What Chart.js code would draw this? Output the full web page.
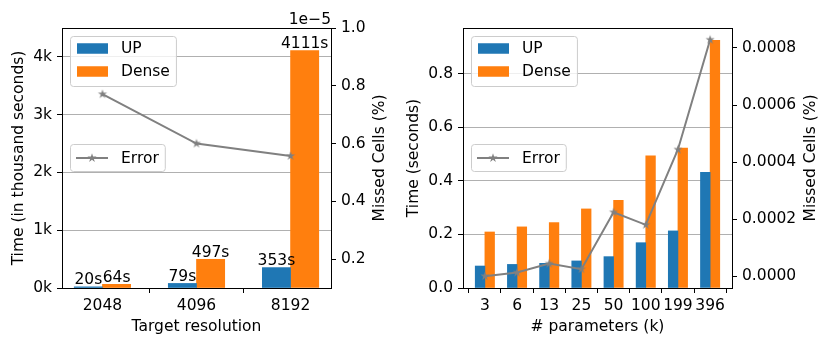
<!DOCTYPE html>
<html>
<head>
<meta charset="utf-8">
<script src="https://cdn.jsdelivr.net/npm/chart.js@4.4.0/dist/chart.umd.min.js"></script>
<style>
  html, body { margin: 0; padding: 0; background: #fff; }
  #wrap { position: relative; width: 830px; height: 347px; overflow: hidden; }
  canvas { position: absolute; top: 0; }
</style>
</head>
<body>
<div id="wrap">
  <canvas id="resChart" width="398" height="347" style="left:0"></canvas>
  <canvas id="paramChart" width="432" height="347" style="left:398px"></canvas>
</div>
<script>
// left panel: target resolution
var resolutions = ['2048', '4096', '8192'];
var resUpTime = [20, 79, 353];            // seconds
var resDenseTime = [64, 497, 4111];       // seconds
var resError = [0.771e-5, 0.600e-5, 0.557e-5];
var resTimeTicks = [0, 1000, 2000, 3000, 4000];
var resErrorTicks = [0.2e-5, 0.4e-5, 0.6e-5, 0.8e-5, 1.0e-5];

// right panel: number of parameters
var paramCounts = ['3', '6', '13', '25', '50', '100', '199', '396'];
var paramUpTime = [0.082, 0.088, 0.092, 0.101, 0.117, 0.169, 0.213, 0.432];
var paramDenseTime = [0.209, 0.228, 0.244, 0.295, 0.327, 0.493, 0.522, 0.924];
var paramError = [0.0, 0.0000126, 0.000044, 0.0000245, 0.000224, 0.00018, 0.000444, 0.000829];
var paramTimeTicks = [0, 0.2, 0.4, 0.6, 0.8];
var paramErrorTicks = [0, 0.0002, 0.0004, 0.0006, 0.0008];

var FONT_SIZE = 15.5;
Chart.defaults.font.family = 'DejaVu Sans';
Chart.defaults.font.size = FONT_SIZE;
Chart.defaults.color = '#000';

var BLUE = '#1f77b4', ORANGE = '#ff7f0e', GRAY = '#808080';

// filled 5 point star like matplotlib '*'
function makeStar(r, color) {
    var size = Math.ceil(r * 2) + 2;
    var c = document.createElement('canvas');
    c.width = size; c.height = size;
    var g = c.getContext('2d');
    g.translate(size / 2, size / 2);
    g.beginPath();
    for (var i = 0; i < 10; i++) {
        var rad = i % 2 === 0 ? r : r * 0.382;
        var a = -Math.PI / 2 + i * Math.PI / 5;
        g.lineTo(rad * Math.cos(a), rad * Math.sin(a));
    }
    g.closePath();
    g.fillStyle = color;
    g.fill();
    return c;
}
var star = makeStar(4.8, GRAY);

function barData(values, shift) {
    return values.map(function (v, i) { return { x: i + shift, y: v }; });
}

function roundBox(ctx, x, y, w, h, r) {
    ctx.beginPath();
    ctx.moveTo(x + r, y);
    ctx.lineTo(x + w - r, y);
    ctx.arcTo(x + w, y, x + w, y + r, r);
    ctx.lineTo(x + w, y + h - r);
    ctx.arcTo(x + w, y + h, x + w - r, y + h, r);
    ctx.lineTo(x + r, y + h);
    ctx.arcTo(x, y + h, x, y + h - r, r);
    ctx.lineTo(x, y + r);
    ctx.arcTo(x, y, x + r, y, r);
    ctx.closePath();
    ctx.fillStyle = 'rgba(255,255,255,0.8)';
    ctx.fill();
    ctx.strokeStyle = '#cccccc';
    ctx.lineWidth = 1;
    ctx.stroke();
}

var decorPlugin = {
    id: 'decor',
    afterDatasetsDraw: function (chart) {
        var o = chart.options.plugins.decor;
        var ctx = chart.ctx;
        var ca = chart.chartArea;
        ctx.save();
        ctx.font = FONT_SIZE + 'px "DejaVu Sans"';
        ctx.fillStyle = '#000';

        // value labels above bars
        if (o.barLabels) {
            ctx.textAlign = 'center';
            ctx.textBaseline = 'alphabetic';
            [0, 1].forEach(function (d) {
                var vals = chart.data.datasets[d].data;
                chart.getDatasetMeta(d).data.forEach(function (el, i) {
                    ctx.fillText(vals[i].y + 's', el.x, el.y - 2.5);
                });
            });
        }

        // axes frame
        ctx.strokeStyle = '#000';
        ctx.lineWidth = 1;
        ctx.strokeRect(ca.left + 0.5, ca.top + 0.5, ca.right - ca.left, ca.bottom - ca.top);

        // legend: bars
        var bx = ca.left + 8, by = ca.top + 8;
        var w = 51 + ctx.measureText('Dense').width + 6;
        roundBox(ctx, bx + 0.5, by + 0.5, w, 50, 3);
        var rows = [['UP', BLUE], ['Dense', ORANGE]];
        ctx.textAlign = 'left';
        ctx.textBaseline = 'middle';
        rows.forEach(function (r, i) {
            var cy = by + 12.5 + i * 23;
            ctx.fillStyle = r[1];
            ctx.fillRect(bx + 7, cy - 5.25, 31, 10.5);
            ctx.fillStyle = '#000';
            ctx.fillText(r[0], bx + 51, cy + 0.5);
        });

        // legend: error line
        var cyE = (ca.top + ca.bottom) / 2;
        var wE = 51 + ctx.measureText('Error').width + 6;
        roundBox(ctx, bx + 0.5, cyE - 13.5, wE, 27, 3);
        ctx.strokeStyle = GRAY;
        ctx.lineWidth = 2;
        ctx.beginPath();
        ctx.moveTo(bx + 6, cyE);
        ctx.lineTo(bx + 38, cyE);
        ctx.stroke();
        ctx.drawImage(star, bx + 22 - star.width / 2, cyE - star.height / 2);
        ctx.fillStyle = '#000';
        ctx.fillText('Error', bx + 51, cyE + 0.5);

        // axis titles
        var midY = (ca.top + ca.bottom) / 2;
        ctx.textAlign = 'center';
        ctx.textBaseline = 'middle';
        [[o.leftTitleX, o.leftTitle], [o.rightTitleX, 'Missed Cells (%)']].forEach(function (t) {
            ctx.save();
            ctx.translate(t[0], midY);
            ctx.rotate(-Math.PI / 2);
            ctx.fillText(t[1], 0, 0);
            ctx.restore();
        });
        ctx.textBaseline = 'alphabetic';
        ctx.fillText(o.xTitle, (ca.left + ca.right) / 2, 331);

        // offset text of right axis
        if (o.offsetText) {
            ctx.textAlign = 'right';
            ctx.fillText(o.offsetText, ca.right, 23.5);
        }
        ctx.restore();
    }
};

function buildChart(id, o) {
    var ctx = document.getElementById(id).getContext('2d');
    return new Chart(ctx, {
        type: 'bar',
        data: {
            datasets: [
                { label: 'UP', data: barData(o.up, -0.15), backgroundColor: BLUE, yAxisID: 'y', order: 2 },
                { label: 'Dense', data: barData(o.dense, 0.15), backgroundColor: ORANGE, yAxisID: 'y', order: 2 },
                {
                    type: 'line', label: 'Error', yAxisID: 'y1', order: 1,
                    data: o.error.map(function (v, i) { return { x: i, y: v }; }),
                    borderColor: GRAY, borderWidth: 2, tension: 0,
                    pointStyle: star, pointRadius: 5
                }
            ]
        },
        options: {
            responsive: false,
            devicePixelRatio: 1,
            animation: false,
            events: [],
            grouped: false,
            barPercentage: 1,
            categoryPercentage: 1,
            layout: { padding: { top: 28, left: 0, right: 0, bottom: 0 } },
            plugins: {
                legend: { display: false },
                tooltip: { enabled: false },
                decor: o.decor
            },
            scales: {
                x: {
                    type: 'linear', min: o.xMin, max: o.xMax, offset: false,
                    afterBuildTicks: function (s) { s.ticks = o.cats.map(function (c, i) { return { value: i }; }); },
                    ticks: {
                        autoSkip: false, maxRotation: 0, minRotation: 0, padding: 4,
                        callback: function (v) { return o.cats[Math.round(v)]; }
                    },
                    grid: { drawOnChartArea: false, tickLength: 5, tickColor: '#000' },
                    border: { display: false },
                    afterFit: function (s) { s.height = 59; }
                },
                y: {
                    position: 'left', min: 0, max: o.yMax,
                    afterBuildTicks: function (s) { s.ticks = o.yTicks.map(function (v) { return { value: v }; }); },
                    ticks: { padding: 5, callback: o.yFmt },
                    grid: { color: '#b0b0b0', lineWidth: 1, tickColor: '#000', tickLength: 5 },
                    border: { display: false },
                    afterFit: function (s) { s.width = o.leftW; }
                },
                y1: {
                    position: 'right', min: o.y1Min, max: o.y1Max,
                    afterBuildTicks: function (s) { s.ticks = o.y1Ticks.map(function (v) { return { value: v }; }); },
                    ticks: { padding: 5, callback: o.y1Fmt },
                    grid: { drawOnChartArea: false, tickColor: '#000', tickLength: 5 },
                    border: { display: false },
                    afterFit: function (s) { s.width = o.rightW; }
                }
            }
        },
        plugins: [decorPlugin]
    });
}

buildChart('resChart', {
    cats: resolutions, up: resUpTime, dense: resDenseTime, error: resError,
    xMin: -0.43, xMax: 2.43,
    yMax: 4500, yTicks: resTimeTicks,
    yFmt: function (v) { return (v / 1000) + 'k'; },
    y1Min: 0.1e-5, y1Max: 1.0e-5, y1Ticks: resErrorTicks,
    y1Fmt: function (v) { return (v / 1e-5).toFixed(1); },
    leftW: 62, rightW: 67,
    decor: {
        barLabels: true, leftTitle: 'Time (in thousand seconds)', leftTitleX: 18.5,
        rightTitleX: 380, xTitle: 'Target resolution', offsetText: '1e\u22125'
    }
});

buildChart('paramChart', {
    cats: paramCounts, up: paramUpTime, dense: paramDenseTime, error: paramError,
    xMin: -0.68, xMax: 7.68,
    yMax: 0.97, yTicks: paramTimeTicks,
    yFmt: function (v) { return v.toFixed(1); },
    y1Min: -0.0000415, y1Max: 0.00087, y1Ticks: paramErrorTicks,
    y1Fmt: function (v) { return v.toFixed(4); },
    leftW: 65, rightW: 98,
    decor: {
        barLabels: false, leftTitle: 'Time (seconds)', leftTitleX: 16,
        rightTitleX: 413, xTitle: '# parameters (k)', offsetText: null
    }
});
</script>
</body>
</html>
